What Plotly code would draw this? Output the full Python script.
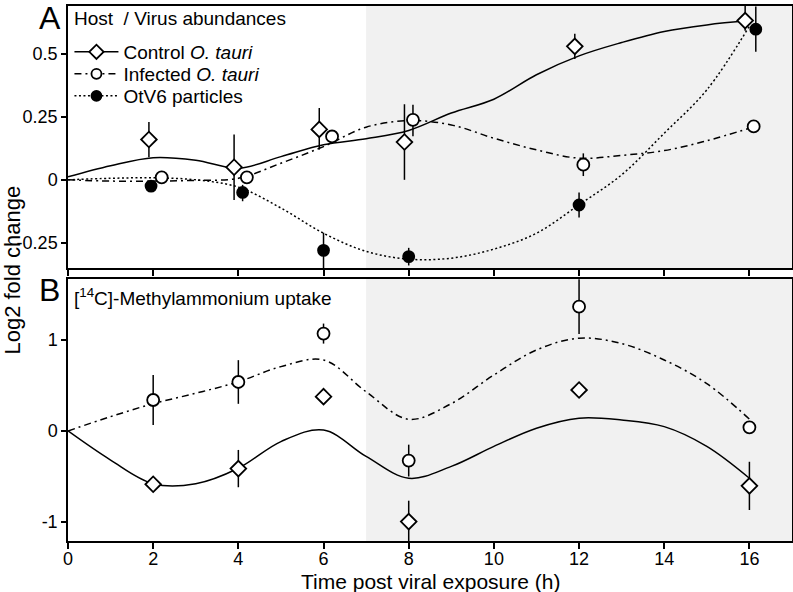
import plotly.graph_objects as go

# ---------------- data ----------------
# Panel A: host / virus abundances (log2 fold change)
ctrl_a_x = [1.9, 3.9, 5.9, 7.9, 11.9, 15.9]
ctrl_a_y = [0.16, 0.05, 0.20, 0.15, 0.53, 0.632]
ctrl_a_err_up = [0.07, 0.13, 0.085, 0.15, 0.05, 0.10]
ctrl_a_err_dn = [0.07, 0.13, 0.08, 0.15, 0.05, 0.04]

inf_a_x = [2.2, 4.2, 6.2, 8.1, 12.1, 16.1]
inf_a_y = [0.01, 0.01, 0.172, 0.238, 0.06, 0.212]
inf_a_err_up = [0, 0, 0, 0.06, 0.045, 0]
inf_a_err_dn = [0, 0, 0, 0.065, 0.045, 0]

vir_a_x = [1.95, 4.1, 6.0, 8.0, 12.0, 16.15]
vir_a_y = [-0.025, -0.05, -0.28, -0.305, -0.10, 0.598]
vir_a_err_up = [0, 0.03, 0.07, 0.035, 0.05, 0.09]
vir_a_err_dn = [0, 0.035, 0.08, 0.035, 0.05, 0.09]

# smoothed trend curves (hours 0..16)
curve_t = [0, 1, 2, 3, 4, 5, 6, 7, 8, 9, 10, 11, 12, 13, 14, 15, 16]
ctrl_a_curve = [0.012, 0.056, 0.088, 0.078, 0.046, 0.092, 0.139, 0.163, 0.196, 0.265,
                0.32, 0.417, 0.492, 0.545, 0.589, 0.615, 0.632]
inf_a_curve = [0.0, -0.005, -0.005, -0.002, 0.006, 0.066, 0.132, 0.209, 0.235, 0.218,
               0.165, 0.119, 0.086, 0.097, 0.116, 0.155, 0.205]
vir_a_curve = [0.0, 0.006, 0.008, 0.0, -0.029, -0.112, -0.212, -0.284, -0.315, -0.311,
               -0.275, -0.212, -0.099, 0.02, 0.185, 0.357, 0.61]

# Panel B: [14C]-methylammonium uptake
b_x = [2, 4, 6, 8, 12, 16]
ctrl_b_y = [-0.586, -0.414, 0.377, -0.997, 0.45, -0.604]
ctrl_b_err = [0, 0.205, 0, 0.23, 0, 0.265]
inf_b_y = [0.34, 0.538, 1.07, -0.326, 1.366, 0.04]
inf_b_err = [0.275, 0.24, 0.11, 0.175, 0.30, 0]

ctrl_b_curve = [0.0, -0.32, -0.58, -0.58, -0.41, -0.117, 0.01, -0.28, -0.52, -0.39,
                -0.17, 0.03, 0.14, 0.12, 0.047, -0.17, -0.52]
inf_b_curve = [0.0, 0.157, 0.30, 0.414, 0.54, 0.707, 0.78, 0.43, 0.128, 0.30,
               0.615, 0.89, 1.02, 0.96, 0.78, 0.52, 0.13]

x_ticks = [0, 2, 4, 6, 8, 10, 12, 14, 16]
ya_ticks = [-0.25, 0, 0.25, 0.5]
ya_labels = ["-0.25", "0", "0.25", "0.5"]
yb_ticks = [-1, 0, 1]
yb_labels = ["-1", "0", "1"]
SHADE_START = 7

# ---------------- styles ----------------
FONT = "Liberation Sans, Arial, Helvetica, sans-serif"
DASHDOT = "7px,4px,2px,4px"
DOTTED = "2px,2.5px"
LW = 1.5

fig = go.Figure()


def curve(x, y, dash, xa, ya):
    fig.add_trace(go.Scatter(x=x, y=y, mode="lines", xaxis=xa, yaxis=ya,
                             line=dict(color="black", width=LW, dash=dash,
                                       shape="spline", smoothing=1.0),
                             showlegend=False, hoverinfo="skip"))


def points(x, y, up, dn, symbol, fill, xa, ya, size):
    fig.add_trace(go.Scatter(x=x, y=y, mode="markers", xaxis=xa, yaxis=ya,
                             marker=dict(symbol=symbol, size=size, color=fill,
                                         line=dict(color="black", width=1.8)),
                             error_y=dict(type="data", symmetric=False, array=up,
                                          arrayminus=dn, color="black",
                                          thickness=1.5, width=0),
                             showlegend=False))


# Panel A
curve(curve_t, ctrl_a_curve, "solid", "x", "y")
curve(curve_t, inf_a_curve, DASHDOT, "x", "y")
curve(curve_t, vir_a_curve, DOTTED, "x", "y")
points(ctrl_a_x, ctrl_a_y, ctrl_a_err_up, ctrl_a_err_dn, "diamond", "white", "x", "y", 12)
points(inf_a_x, inf_a_y, inf_a_err_up, inf_a_err_dn, "circle", "white", "x", "y", 12)
points(vir_a_x, vir_a_y, vir_a_err_up, vir_a_err_dn, "circle", "black", "x", "y", 11)

# Panel B
curve(curve_t, ctrl_b_curve, "solid", "x2", "y2")
curve(curve_t, inf_b_curve, DASHDOT, "x2", "y2")
points(b_x, ctrl_b_y, ctrl_b_err, ctrl_b_err, "diamond", "white", "x2", "y2", 12)
points(b_x, inf_b_y, inf_b_err, inf_b_err, "circle", "white", "x2", "y2", 12)

# legend entries (one legend per entry so each row can be placed)
legend_items = [("Control <i>O. tauri</i>", "solid", "diamond", "white", 11, "legend"),
                ("Infected <i>O. tauri</i>", DASHDOT, "circle", "white", 10, "legend2"),
                ("OtV6 particles", DOTTED, "circle", "black", 10, "legend3")]
for name, dash, sym, fill, sz, lg in legend_items:
    fig.add_trace(go.Scatter(x=[None], y=[None], mode="lines+markers", name=name,
                             xaxis="x", yaxis="y", legend=lg,
                             line=dict(color="black", width=LW, dash=dash),
                             marker=dict(symbol=sym, size=sz, color=fill,
                                         line=dict(color="black", width=1.8))))

for xr, yr in [("x", "y"), ("x2", "y2")]:
    fig.add_shape(type="rect", xref=xr, yref=yr + " domain", x0=SHADE_START, x1=17,
                  y0=0, y1=1, fillcolor="#f1f1f1", line=dict(width=0), layer="below")

axis_common = dict(showline=True, linecolor="black", linewidth=1.5, mirror=True,
                   showgrid=False, zeroline=False, ticks="outside", tickcolor="black",
                   tickwidth=1.5, tickfont=dict(family=FONT, size=18, color="black"))


def legend_at(ypx):
    return dict(x=0.002, xanchor="left", y=1 - (ypx - 6) / 535, yanchor="middle",
                bgcolor="rgba(0,0,0,0)", font=dict(family=FONT, size=19),
                itemwidth=44, borderwidth=0)


fig.update_layout(
    width=793, height=592,
    margin=dict(l=68, r=1, t=6, b=51, autoexpand=False),
    paper_bgcolor="white", plot_bgcolor="white",
    font=dict(family=FONT, size=19, color="black"),
    xaxis=dict(domain=[0, 1], anchor="y", range=[0, 17], tickvals=x_ticks,
               showticklabels=False, ticklen=6, **axis_common),
    yaxis=dict(domain=[0.5103, 1], anchor="x", range=[-0.35, 0.69], tickvals=ya_ticks,
               ticktext=ya_labels, ticklen=5, **axis_common),
    xaxis2=dict(domain=[0, 1], anchor="y2", range=[0, 17], tickvals=x_ticks,
                ticklen=6, ticklabelstandoff=-5, **axis_common),
    yaxis2=dict(domain=[0, 0.4897], anchor="x2", range=[-1.21, 1.67], tickvals=yb_ticks,
                ticktext=yb_labels, ticklen=5, **axis_common),
    showlegend=True,
    legend=legend_at(52),
    legend2=legend_at(74),
    legend3=legend_at(96),
)

annotations = [
    dict(text="Host  / Virus abundances", xref="x domain", yref="y domain", x=0.006,
         y=0.954, xanchor="left", yanchor="middle", showarrow=False,
         font=dict(family=FONT, size=19)),
    dict(text="[<sup>14</sup>C]-Methylammonium uptake", xref="x2 domain", yref="y2 domain",
         x=0.006, y=0.931, xanchor="left", yanchor="middle", showarrow=False,
         font=dict(family=FONT, size=19)),
    dict(text="A", xref="paper", yref="paper", x=-0.025, y=0.9776, xanchor="center",
         yanchor="middle", showarrow=False, font=dict(family=FONT, size=32)),
    dict(text="B", xref="paper", yref="paper", x=-0.025, y=0.469, xanchor="center",
         yanchor="middle", showarrow=False, font=dict(family=FONT, size=32)),
    dict(text="Log2 fold change", xref="paper", yref="paper", x=-0.078, y=0.5065,
         xanchor="center", yanchor="middle", textangle=-90, showarrow=False,
         font=dict(family=FONT, size=22)),
    dict(text="Time post viral exposure (h)", xref="paper", yref="paper", x=0.5, y=-0.075,
         xanchor="center", yanchor="middle", showarrow=False,
         font=dict(family=FONT, size=21)),
]
fig.update_layout(annotations=annotations)

fig.write_html("out.html", post_script="document.body.style.margin='0';",
               config={"displayModeBar": False})
